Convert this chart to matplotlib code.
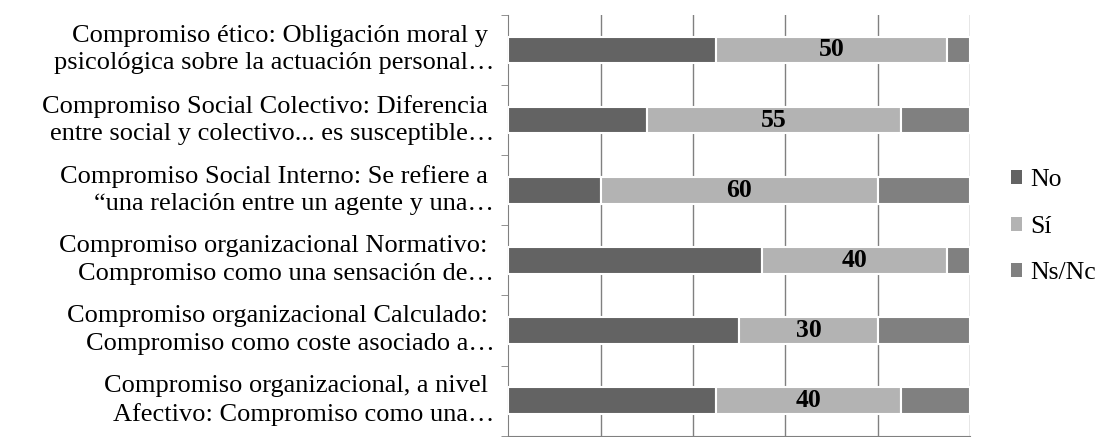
import numpy as np
import matplotlib.pyplot as plt
from matplotlib.transforms import ScaledTranslation

plt.rcParams['font.family'] = ['Liberation Serif', 'DejaVu Serif']

# categories top to bottom
categorias = [
    "Compromiso ético: Obligación moral y \npsicológica sobre la actuación personal…",
    "Compromiso Social Colectivo: Diferencia \nentre social y colectivo... es susceptible…",
    "Compromiso Social Interno: Se refiere a \n“una relación entre un agente y una…",
    "Compromiso organizacional Normativo: \nCompromiso como una sensación de…",
    "Compromiso organizacional Calculado: \nCompromiso como coste asociado a…",
    "Compromiso organizacional, a nivel \nAfectivo: Compromiso como una…",
]
no = [45, 30, 20, 55, 50, 45]
si = [50, 55, 60, 40, 30, 40]
nsnc = [5, 15, 20, 5, 20, 15]
series = ["No", "Sí", "Ns/Nc"]
colores = ["#636363", "#b3b3b3", "#808080"]

fig = plt.figure(figsize=(11, 4.37), dpi=100)
ax = fig.add_axes([0.462, 0.003, 0.42, 0.963])

y = np.arange(len(categorias))[::-1]
left = np.zeros(len(categorias))
for nombre, vals, col in zip(series, [no, si, nsnc], colores):
    bars = ax.barh(y, vals, left=left, height=0.38, color=col,
                   edgecolor='white', linewidth=1.5, label=nombre, zorder=3)
    if nombre == "Sí":
        for b, v in zip(bars, vals):
            ax.text(b.get_x() + b.get_width() / 2, b.get_y() + b.get_height() / 2,
                    str(v), ha='center', va='center', fontsize=18.5,
                    fontweight='bold', color='black', zorder=4)
    left += np.array(vals)

ax.set_xlim(0, 100)
ax.set_ylim(-0.5, len(categorias) - 0.5)
ax.set_xticks([20, 40, 60, 80, 100])
ax.xaxis.grid(True, color='#808080', linewidth=1, zorder=0)
ax.tick_params(axis='x', length=0, labelbottom=False)

ax.set_yticks(y)
ax.set_yticklabels(categorias, fontsize=19, linespacing=1.32)
ax.set_yticks(np.arange(len(categorias) + 1) - 0.5, minor=True)
ax.tick_params(axis='y', which='major', length=0, pad=10)
ax.tick_params(axis='y', which='minor', length=5, color='#808080')
# nudge the labels up a little, like the original
for lab in ax.get_yticklabels():
    lab.set_transform(lab.get_transform() + ScaledTranslation(0, 4 / 72, fig.dpi_scale_trans))

for s in ['top', 'right']:
    ax.spines[s].set_visible(False)
ax.spines['left'].set_color('#808080')
ax.spines['bottom'].set_color('#808080')

leg = fig.legend(loc='center left', bbox_to_anchor=(0.919, 0.481), frameon=False,
                 borderaxespad=0, borderpad=0,
                 fontsize=18.5, handlelength=0.45, handleheight=0.45,
                 handletextpad=0.3, labelspacing=0.95)
for h in leg.legend_handles:
    h.set_linewidth(0)

fig.savefig('out.png', dpi=100)
